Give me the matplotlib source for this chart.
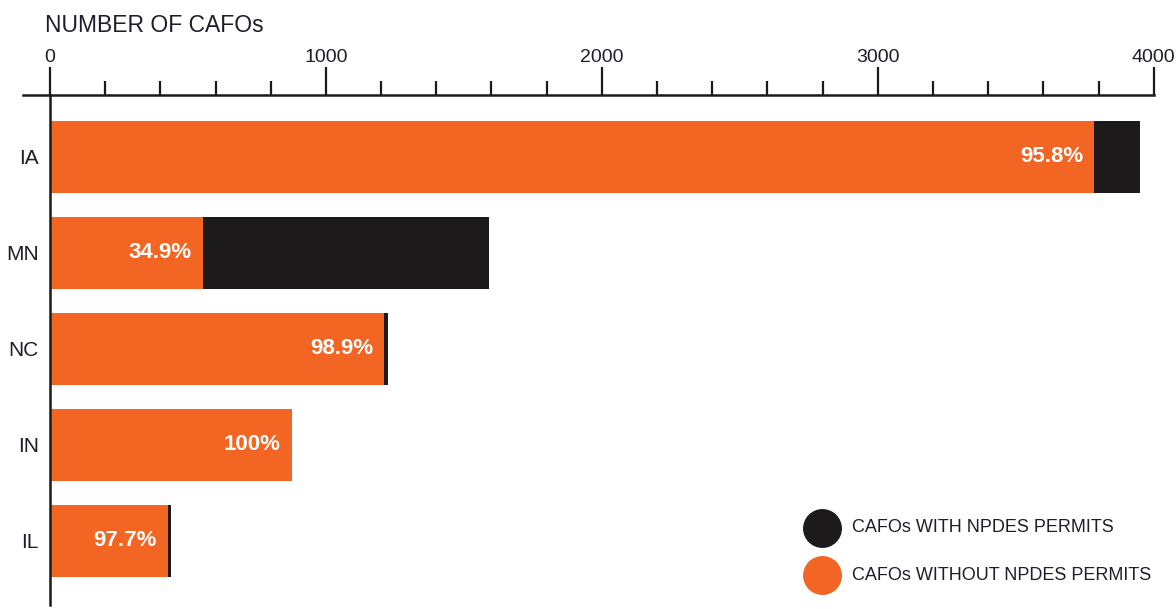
import matplotlib
matplotlib.use("Agg")
import matplotlib.pyplot as plt
from matplotlib.lines import Line2D
from matplotlib.ticker import MultipleLocator

# Data: total CAFOs per state and share without NPDES permits (%)
states = ["IA", "MN", "NC", "IN", "IL"]
totals = [3950, 1590, 1224, 876, 437]
pct_without = [95.8, 34.9, 98.9, 100.0, 97.7]
pct_labels = ["95.8%", "34.9%", "98.9%", "100%", "97.7%"]
xticks = [0, 1000, 2000, 3000, 4000]
legend_labels = ["CAFOs WITH NPDES PERMITS", "CAFOs WITHOUT NPDES PERMITS"]

without = [t * p / 100 for t, p in zip(totals, pct_without)]
with_permit = [t - w for t, w in zip(totals, without)]

ORANGE = "#F26522"
BLACK = "#1C1A1A"
INK = "#1E1E2A"

plt.rcParams["font.family"] = ["Liberation Sans", "DejaVu Sans"]

W, H = 1176, 609
fig = plt.figure(figsize=(W / 100, H / 100), dpi=100)
fig.patch.set_facecolor("white")

x0_px, x1_px = 50, 1153.7
top_px, bot_px = 95, 605
ax = fig.add_axes([x0_px / W, 1 - bot_px / H, (x1_px - x0_px) / W, (bot_px - top_px) / H])

ypos = list(range(len(states)))
ax.barh(ypos, without, height=0.76, color=ORANGE, zorder=2)
ax.barh(ypos, with_permit, left=without, height=0.76, color=BLACK, zorder=2)

for y, w, lab in zip(ypos, without, pct_labels):
    ax.annotate(lab, xy=(w, y), xytext=(-8, 0), textcoords="offset points",
                ha="right", va="center", color="white", fontsize=16,
                fontweight="bold", zorder=3)

ax.set_xlim(0, 4000)
ax.set_ylim((bot_px - 157) / 96, (top_px - 157) / 96)

ax.xaxis.tick_top()
ax.set_xticks(xticks)
ax.xaxis.set_minor_locator(MultipleLocator(200))
ax.tick_params(axis="x", which="major", direction="out", length=20, width=1.6,
               color=BLACK, labelsize=14, labelcolor=INK, pad=1)
ax.tick_params(axis="x", which="minor", direction="out", length=10, width=1.6,
               color=BLACK)
ax.set_yticks(ypos)
ax.set_yticklabels(states)
ax.tick_params(axis="y", length=0, labelsize=15, labelcolor=INK, pad=8)

for side in ("right", "bottom"):
    ax.spines[side].set_visible(False)
for side in ("top", "left"):
    ax.spines[side].set_linewidth(1.8)
    ax.spines[side].set_color(BLACK)

# extend the baseline a little to the left of zero
fig.add_artist(Line2D([23 / W, x0_px / W], [1 - top_px / H, 1 - top_px / H],
                      color=BLACK, linewidth=1.8, transform=fig.transFigure))

fig.text(45 / W, 1 - 25 / H, "NUMBER OF CAFOs", ha="left", va="center",
         fontsize=16.5, color=INK)

# legend with round markers
for (ypx, col, lab) in [(528, BLACK, legend_labels[0]), (575, ORANGE, legend_labels[1])]:
    fig.add_artist(Line2D([822 / W], [1 - ypx / H], marker="o", markersize=27,
                          color=col, linestyle="none", transform=fig.transFigure))
    fig.text(852 / W, 1 - ypx / H, lab, ha="left", va="center", fontsize=13,
             color=INK)

fig.savefig("out.png", dpi=100, facecolor="white")
